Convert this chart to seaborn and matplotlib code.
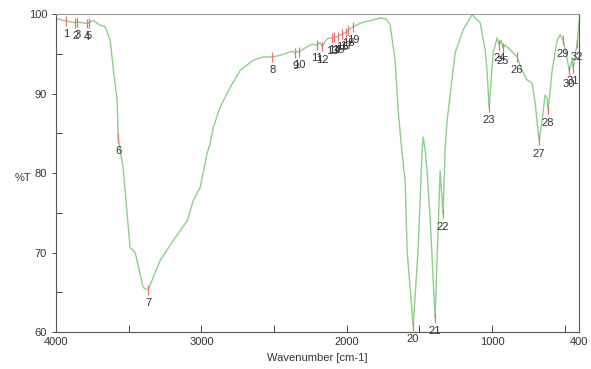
import numpy as np
import pandas as pd
import matplotlib
matplotlib.use('Agg')
import matplotlib.pyplot as plt
import seaborn as sns

# spectrum (wavenumber cm-1, %T)
wavenumber = [4000, 3993, 3931, 3924, 3869, 3855, 3787, 3773, 3745, 3697, 3663, 3628, 3608, 3580,
              3573, 3539, 3491, 3470, 3456, 3401, 3367, 3340, 3284, 3195, 3098, 3057, 3009, 2961,
              2940, 2919, 2871, 2802, 2734, 2644, 2575, 2513, 2458, 2400, 2372, 2355, 2340, 2328,
              2290, 2240, 2204, 2185, 2169, 2135, 2100, 2087, 2059, 2032, 2004, 1990, 1956, 1900,
              1830, 1770, 1730, 1701, 1667, 1646, 1619, 1598, 1584, 1543, 1509, 1481, 1474, 1460,
              1447, 1426, 1392, 1357, 1337, 1323, 1309, 1254, 1199, 1137, 1082, 1047, 1034, 1020,
              992, 965, 951, 937, 924, 910, 875, 827, 793, 758, 724, 703, 676, 655, 635, 621, 614,
              586, 552, 531, 511, 490, 469, 449, 442, 428, 414, 400]
transmittance = [99.5, 99.4, 99.1, 99.1, 98.9, 99.0, 98.8, 98.9, 99.2, 98.6, 98.4, 96.7, 93.3, 89.2,
                 84.4, 80.7, 70.6, 70.3, 70.0, 65.6, 65.3, 66.5, 69.0, 71.5, 74.0, 76.5, 78.2, 82.5,
                 83.7, 85.7, 88.3, 90.8, 92.9, 94.2, 94.6, 94.6, 94.8, 95.2, 95.3, 95.1, 95.3, 95.2,
                 95.7, 96.2, 96.1, 96.4, 95.9, 96.9, 97.0, 97.1, 97.2, 97.5, 97.7, 98.0, 98.4, 98.9,
                 99.2, 99.5, 99.4, 98.6, 94.2, 87.9, 82.5, 79.1, 70.2, 60.8, 70.2, 82.9, 84.5, 82.9,
                 80.3, 74.4, 61.8, 80.3, 74.9, 82.9, 86.6, 95.1, 98.0, 99.9, 98.9, 95.5, 92.9, 88.3,
                 95.1, 97.0, 96.1, 96.7, 95.7, 96.1, 95.5, 94.6, 92.9, 91.7, 91.3, 88.8, 84.1, 86.6,
                 89.8, 89.4, 87.9, 92.9, 96.7, 97.4, 96.7, 95.1, 92.9, 94.2, 93.2, 94.8, 96.3, 99.2]

# picked peaks
peak_labels = [str(i) for i in range(1, 33)]
peak_wn = [3931, 3869, 3855, 3787, 3773, 3573, 3367, 2513, 2355, 2328, 2204, 2169, 2100, 2087,
           2059, 2032, 2004, 1990, 1956, 1543, 1392, 1337, 1020, 951, 924, 827, 676, 614, 511,
           469, 442, 414]
peak_t = [99.1, 98.9, 99.0, 98.8, 98.9, 84.4, 65.3, 94.6, 95.1, 95.2, 96.1, 95.9, 97.0, 97.1,
          97.2, 97.5, 97.7, 98.0, 98.4, 60.8, 61.8, 74.9, 88.3, 96.1, 95.7, 94.6, 84.1, 87.9, 96.7,
          92.9, 93.2, 96.3]

df = pd.DataFrame({'wn': wavenumber, 'T': transmittance})

sns.set_style('ticks')
plt.rcParams['font.family'] = ['Liberation Sans', 'DejaVu Sans']

fig = plt.figure(figsize=(5.91, 3.69), dpi=100)
ax = fig.add_axes([0.095, 0.10, 0.885, 0.862])

sns.lineplot(data=df, x='wn', y='T', sort=False, color='#8ad08a', linewidth=1.0, ax=ax)

# peak markers + numbers
ax.vlines(peak_wn, [t - 0.6 for t in peak_t], [t + 0.6 for t in peak_t],
          colors='#f07070', linewidth=0.9)
for lab, w, t in zip(peak_labels, peak_wn, peak_t):
    ax.annotate(lab, (w, t - 0.6), xytext=(0, -2.5), textcoords='offset points',
                ha='center', va='top', fontsize=8, color='#333333', annotation_clip=False)

ax.set_xlim(4000, 400)
ax.set_ylim(60, 100)
ax.set_xticks([4000, 3000, 2000, 1000, 400])
ax.set_xticks([3500, 2500, 1500, 500], minor=True)
ax.set_yticks([60, 70, 80, 90, 100])
ax.set_yticks([65, 75, 85, 95], minor=True)
ax.tick_params(axis='x', which='both', direction='in', length=5, width=0.7, labelsize=8,
               colors='#444444', labelcolor='#333333')
ax.tick_params(axis='y', which='major', direction='out', length=3, width=0.7, labelsize=8,
               colors='#444444', labelcolor='#333333')
ax.tick_params(axis='y', which='minor', direction='in', length=4, width=0.7, colors='#444444')

for s in ax.spines.values():
    s.set_visible(True)
    s.set_color('#555555')
    s.set_linewidth(0.8)
ax.spines['top'].set_color('#999999')

ax.set_xlabel('Wavenumber [cm-1]', fontsize=8, color='#333333', labelpad=4)
ax.set_ylabel('%T', fontsize=8, color='#333333', rotation=0)
ax.yaxis.set_label_coords(-0.063, 0.47)

fig.savefig('out.png', dpi=100)
